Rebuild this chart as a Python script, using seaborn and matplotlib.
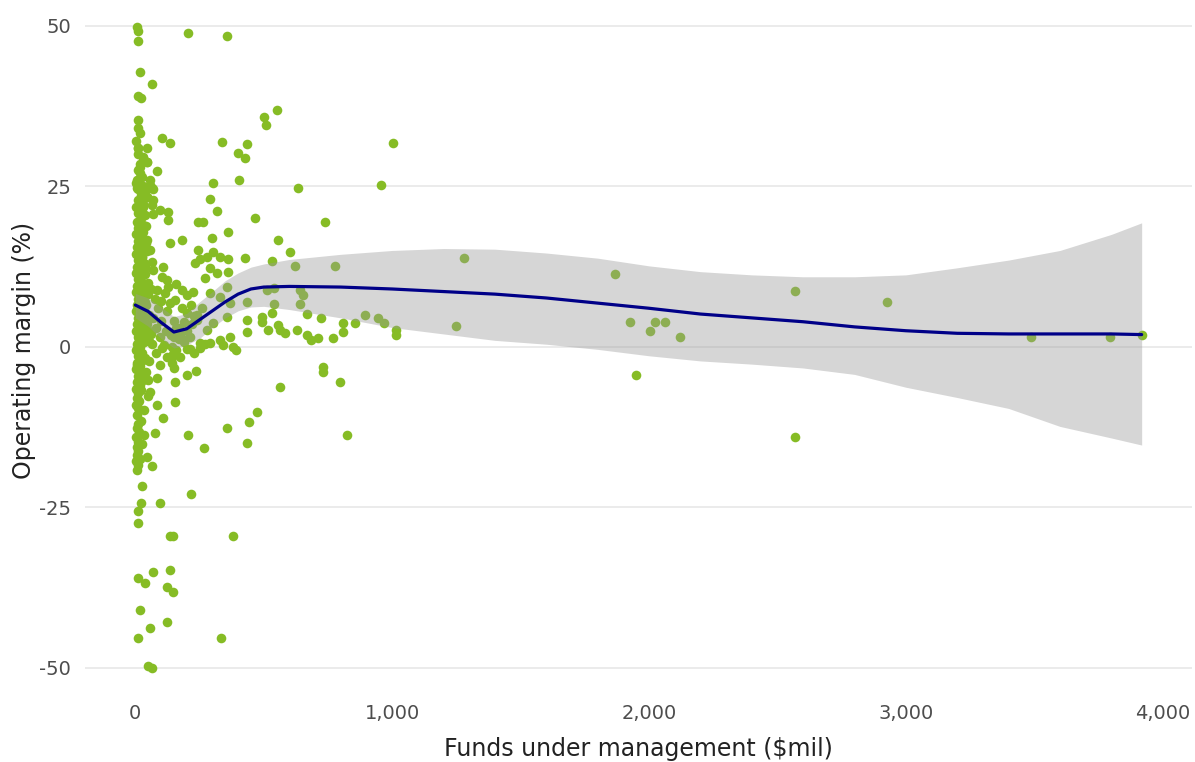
import seaborn as sns
import matplotlib.pyplot as plt
import pandas as pd
from matplotlib.ticker import FuncFormatter

# small funds: the dense column near zero
funds_small = [8, 12, 12, 19, 12, 23, 12, 12, 19, 4, 12, 47, 12, 31, 47, 19, 12, 19, 27, 12,
               4, 31, 58, 12, 39, 23, 47, 12, 31, 4, 19, 12, 39, 23, 8, 31, 12, 19, 4, 27,
               12, 35, 8, 19, 4, 27, 12, 35, 8, 19, 4, 23, 12, 31, 8, 16, 4, 27, 12, 35,
               8, 19, 4, 27, 12, 31, 8, 19, 4, 23, 12, 35, 8, 19, 4, 27, 12, 31, 8, 19,
               4, 23, 12, 8, 19, 4, 12, 8, 16, 4, 12, 8, 12, 8, 16, 4, 12, 8, 12, 8,
               19, 4, 12, 8, 66, 27, 23, 12, 12, 12, 39, 19, 12, 51, 66,
               19, 86, 8, 58, 8, 31, 66, 70, 12, 31, 47, 47, 31, 58, 27, 39, 66, 70,
               97, 129, 129, 70, 66, 70, 47, 31, 12, 19, 27, 8, 35, 43, 16, 23,
               43, 39, 51, 35, 47, 55, 39, 43, 31, 51, 35, 47, 27, 43, 39, 31, 23, 35, 27, 31]
margin_small = [49.8, 49.1, 47.6, 42.8, 39.0, 38.8, 35.3, 34.1, 33.3, 32.1, 31.0, 31.0, 30.0, 29.6, 28.8, 28.4, 27.5, 27.0, 26.4, 25.9,
                25.5, 25.0, 25.2, 24.5, 24.2, 23.6, 23.4, 22.9, 22.3, 21.8, 21.5, 20.8, 20.5, 20.0, 19.5, 19.0, 18.5, 18.0, 17.5, 17.0,
                16.5, 16.0, 15.5, 15.0, 14.5, 14.0, 13.5, 13.0, 12.5, 12.0, 11.5, 11.0, 10.5, 10.0, 9.5, 9.0, 8.5, 8.0, 7.5, 7.0,
                6.5, 6.0, 5.5, 5.0, 4.5, 4.0, 3.5, 3.0, 2.5, 2.0, 1.5, 1.0, 0.5, 0.0, -0.5, -1.0, -1.5, -2.0, -2.5, -3.0,
                -3.5, -4.0, -4.5, -5.5, -6.0, -6.5, -7.2, -7.9, -8.5, -9.0, -9.5, -10.6, -12.1, -12.6, -13.2, -14.0, -14.8, -15.6, -16.2, -16.8,
                -17.4, -17.8, -18.4, -19.2, -18.5, -21.7, -24.3, -25.5, -27.4, -36.0, -36.8, -41.0, -45.3, -49.7, -50.0,
                28.0, 27.4, 26.0, 26.0, 24.8, 24.5, 24.8, 24.5, 31.0, 29.4, 28.7, 16.7, 17.8, 15.1, 14.0, 12.5, 13.2, 12.0,
                21.3, 21.0, 19.8, 20.6, 22.1, 22.9, 23.4, 24.9, 25.5, 10.2, 3.8, -2.8, 0.8, 8.8, 1.2, -6.8,
                18.8, 11.3, 8.2, 5.8, 2.8, 0.9, -1.8, -3.9, -5.2, -7.6, -9.8, 14.9, 20.3, 16.1, 6.9, 1.9, -11.5, -13.8, -15.2, 21.8]

# mid-sized funds, up to about $1bn
funds_mid = [206, 358, 65, 103, 133, 502, 510, 553, 339, 398, 425, 436, 405, 304, 292, 319, 635, 1005, 958,
             245, 265, 467, 740, 362, 300, 183, 136, 557, 604, 534, 425, 623, 779, 245, 253, 234, 280, 304, 331,
             362, 292, 319, 362, 273,
             109, 105, 125, 129, 86, 117, 156, 183, 203, 226, 144, 105, 148,
             51, 62, 78, 43, 90, 55, 70, 100, 47, 82, 120, 60, 95, 140, 170, 190, 66, 110, 160, 200, 82, 125, 55,
             175, 230, 250, 270, 214, 253, 292, 331, 370, 390, 343, 382, 214, 125, 150, 170, 190, 135, 160, 180,
             200, 215, 230, 101,
             514, 538, 643, 654, 292, 331, 358, 896, 160, 175, 190, 150, 200, 220, 240, 260,
             436, 538, 643, 670, 721, 534, 436, 495, 495, 436, 518, 557, 565, 584, 631, 670, 682, 713, 771, 810,
             810, 857, 943, 970, 1013, 1013, 358, 304, 280, 241, 370,
             152, 97, 144, 144, 51, 86, 58, 156, 203, 238, 86, 156, 109, 78, 206, 269, 358, 444, 475, 436,
             47, 218, 97, 136, 148, 382, 70, 136, 125, 148, 125, 58, 335, 565, 732, 732, 798, 826]
margin_mid = [48.8, 48.4, 40.9, 32.5, 31.7, 35.8, 34.6, 36.8, 31.9, 30.2, 29.4, 31.5, 26.0, 25.5, 23.0, 21.2, 24.8, 31.8, 25.2,
              19.5, 19.5, 20.1, 19.5, 17.8, 17.0, 16.7, 16.2, 16.7, 14.7, 13.4, 13.9, 12.6, 12.6, 15.1, 13.6, 13.1, 14.0, 14.8, 14.0,
              13.6, 12.3, 11.5, 11.7, 10.7,
              12.5, 10.9, 10.4, 9.3, 8.9, 8.4, 7.3, 8.9, 8.1, 8.6, 0.0, -0.2, -1.2,
              10.0, 9.0, 7.5, 6.5, 6.0, 5.0, 4.5, 4.0, 3.5, 3.0, 2.5, 2.0, 1.5, 1.8, 1.2, 0.8, 0.5, 0.3, -0.5, -0.3, -1.0, -1.6, -2.2,
              -1.6, -0.9, -0.2, 0.4, 1.6, 0.6, 0.6, 1.1, 1.6, -0.5, 0.3, -0.1, -0.4, 5.5, 4.0, 3.0, 3.8, 6.8, 9.8, 6.0,
              5.2, 6.5, 4.8, 7.2,
              8.9, 9.2, 8.9, 8.1, 8.4, 7.8, 9.3, 5.0, 3.0, 2.0, 1.0, 1.5, 2.5, 3.5, 5.0, 6.0,
              6.9, 6.7, 6.7, 5.1, 4.5, 5.3, 4.2, 4.7, 3.9, 2.3, 2.6, 3.4, 2.6, 2.2, 2.6, 1.9, 1.1, 1.4, 1.4, 3.7,
              2.3, 3.7, 4.5, 3.7, 2.6, 1.9, 4.7, 3.7, 2.6, 4.2, 6.8,
              -3.3, -2.8, -1.6, -2.5, -5.1, -4.8, -7.0, -5.5, -4.4, -3.7, -9.0, -8.6, -11.1, -13.4, -13.7, -15.7, -12.6, -11.7, -10.1, -15.0,
              -17.1, -22.9, -24.3, -29.4, -29.4, -29.4, -35.0, -34.7, -37.4, -38.2, -42.8, -43.8, -45.3, -6.2, -3.1, -3.9, -5.5, -13.7]

# the few large funds
funds_large = [1281, 1866, 2567, 1250, 1924, 2002, 2025, 2064, 2119, 1951, 2567, 2925, 3486, 3794, 3918]
margin_large = [13.9, 11.4, 8.7, 3.3, 3.9, 2.5, 3.9, 3.9, 1.6, -4.4, -14.0, 6.9, 1.6, 1.6, 1.9]

# smoothed trend and its confidence band
fit_x = [0, 50, 100, 150, 200, 250, 300, 350, 400, 450, 500, 600, 800, 1000, 1200, 1400, 1600,
         1800, 2000, 2200, 2400, 2600, 2800, 3000, 3200, 3400, 3600, 3800, 3918]
fit_y = [6.5, 5.5, 3.8, 2.3, 2.8, 4.2, 5.6, 7.0, 8.2, 9.0, 9.3, 9.4, 9.3, 9.0, 8.6, 8.2, 7.6,
         6.8, 6.0, 5.1, 4.5, 3.9, 3.1, 2.5, 2.1, 2.0, 2.0, 2.0, 1.9]
fit_lo = [4.5, 3.2, 1.3, -0.2, 0.3, 1.3, 3.0, 4.5, 5.6, 6.2, 6.3, 5.8, 4.5, 3.0, 2.0, 1.0, 0.4,
          -0.4, -1.4, -2.2, -2.7, -3.3, -4.3, -6.3, -7.9, -9.6, -12.4, -14.2, -15.3]
fit_hi = [8.3, 7.6, 6.2, 4.7, 5.2, 7.0, 8.6, 10.3, 11.5, 12.4, 12.9, 13.6, 14.4, 15.0, 15.3, 15.2, 14.6,
          13.8, 12.6, 11.7, 11.2, 10.9, 10.9, 11.2, 12.3, 13.5, 15.0, 17.5, 19.3]

df = pd.DataFrame({
    "funds": funds_small + funds_mid + funds_large,
    "margin": margin_small + margin_mid + margin_large,
})

sns.set_theme(style="white")
plt.rcParams['font.family'] = ['DejaVu Sans']
plt.rcParams['axes.unicode_minus'] = False

fig = plt.figure(figsize=(11.95, 7.62), dpi=100)
ax = fig.add_axes([85 / 1195, 62 / 762, 1107 / 1195, 700 / 762])

sns.scatterplot(data=df, x="funds", y="margin", color="#86bc25", s=48,
                linewidth=0, ax=ax, zorder=2)
ax.fill_between(fit_x, fit_lo, fit_hi, color="#999999", alpha=0.4, linewidth=0, zorder=3)
sns.lineplot(x=fit_x, y=fit_y, color="#000088", linewidth=2.3, ax=ax, zorder=4)

ax.set_xlim(-196, 4114)
ax.set_ylim(-55, 54)
ax.set_xticks([0, 1000, 2000, 3000, 4000])
ax.set_yticks([-50, -25, 0, 25, 50])
ax.xaxis.set_major_formatter(FuncFormatter(lambda v, p: f"{v:,.0f}"))
ax.grid(axis="y", color="#ebebeb", linewidth=1.4, zorder=0)
ax.grid(axis="x", visible=False)
ax.set_axisbelow(True)
sns.despine(ax=ax, left=True, bottom=True)
ax.tick_params(axis="y", length=0, pad=10, labelsize=14, labelcolor="#4d4d4d")
ax.tick_params(axis="x", length=0, pad=3, labelsize=14, labelcolor="#4d4d4d")
ax.set_xlabel("Funds under management ($mil)", fontsize=17, color="#222222", labelpad=10)
ax.set_ylabel("Operating margin (%)", fontsize=17, color="#222222", labelpad=2)

fig.savefig("out.png", dpi=100)
